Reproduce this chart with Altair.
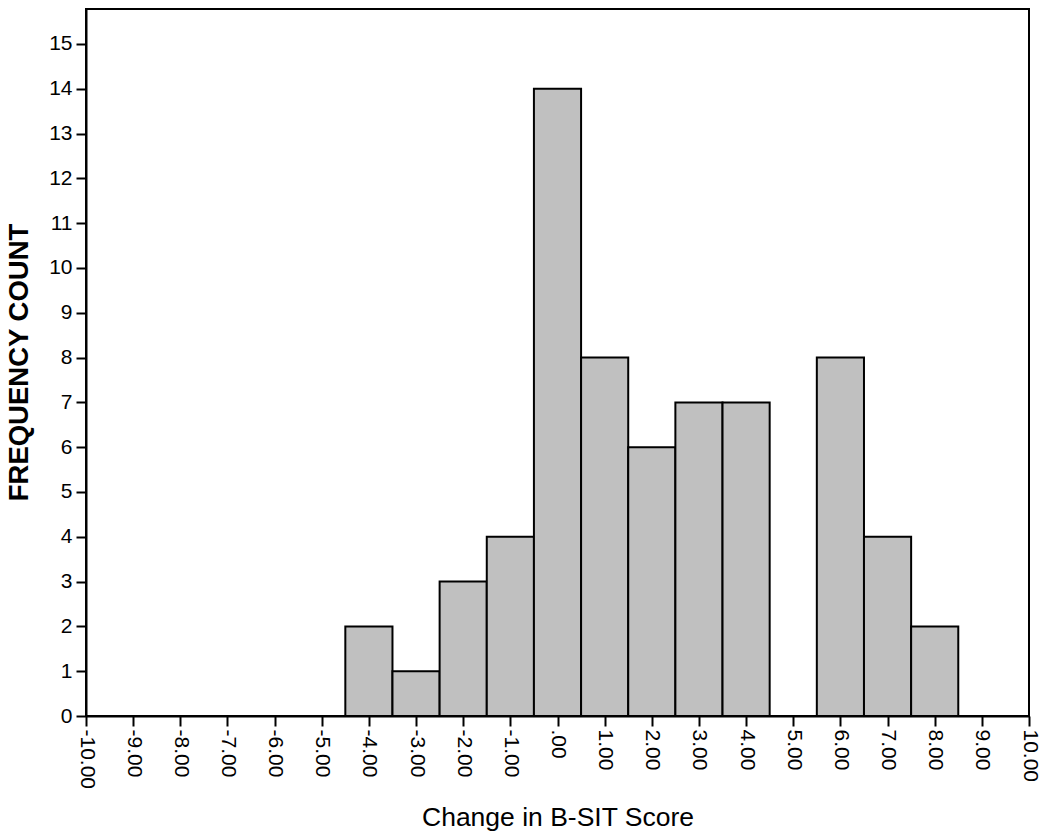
import altair as alt
import pandas as pd

bin_centers = [-4, -3, -2, -1, 0, 1, 2, 3, 4, 5, 6, 7, 8]
counts = [2, 1, 3, 4, 14, 8, 6, 7, 7, 0, 8, 4, 2]
x_ticks = list(range(-10, 11))
y_ticks = list(range(0, 16))

df = pd.DataFrame({"center": bin_centers, "count": counts})
df["lo"] = df["center"] - 0.5
df["hi"] = df["center"] + 0.5
df["base"] = 0

FONT = "Liberation Sans"

label_expr = "datum.value == 0 ? '.00' : (datum.value < 0 ? '-' : '') + format(abs(datum.value), '.2f')"

chart = (
    alt.Chart(df)
    .transform_filter("datum.count > 0")
    .mark_bar(fill="#c0c0c0", stroke="#000000", strokeWidth=2)
    .encode(
        x=alt.X(
            "lo:Q",
            scale=alt.Scale(domain=[-10, 10], nice=False, zero=False),
            axis=alt.Axis(
                values=x_ticks,
                labelExpr=label_expr,
                labelAngle=90,
                labelAlign="left",
                labelBaseline="middle",
                labelFontSize=21,
                labelFont=FONT,
                labelColor="#000000",
                labelPadding=3,
                tickSize=10,
                tickWidth=2,
                tickColor="#000000",
                domainColor="#000000",
                domainWidth=2,
                grid=False,
                title="Change in B-SIT Score",
                titleFont=FONT,
                titleFontSize=26.5,
                titleFontWeight="normal",
                titleColor="#000000",
                titleBaseline="middle",
                titleAlign="center",
                titleX=471.5,
                titleY=101,
                labelOverlap=False,
                labelFlush=False,
            ),
        ),
        x2="hi:Q",
        y=alt.Y(
            "count:Q",
            scale=alt.Scale(domain=[0, 15.78], nice=False),
            axis=alt.Axis(
                values=y_ticks,
                format="d",
                labelFontSize=21,
                labelFont=FONT,
                labelColor="#000000",
                labelPadding=4,
                tickSize=10,
                tickWidth=2,
                tickColor="#000000",
                domainColor="#000000",
                domainWidth=2,
                grid=False,
                title="FREQUENCY COUNT",
                titleFont=FONT,
                titleFontSize=27.5,
                titleFontWeight="bold",
                titleColor="#000000",
                titleAngle=270,
                titleAlign="center",
                titleBaseline="middle",
                titleX=-67,
                titleY=353,
                labelOverlap=False,
                labelFlush=False,
            ),
        ),
        y2="base:Q",
    )
    .properties(
        width=943,
        height=707,
        background="#ffffff",
        autosize=alt.AutoSizeParams(type="none"),
        padding={"left": 78, "top": 1, "right": 13, "bottom": 115},
    )
    .configure_view(stroke="#000000", strokeWidth=2)
)

chart.save("out.html", embed_options={"renderer": "svg", "actions": False})
